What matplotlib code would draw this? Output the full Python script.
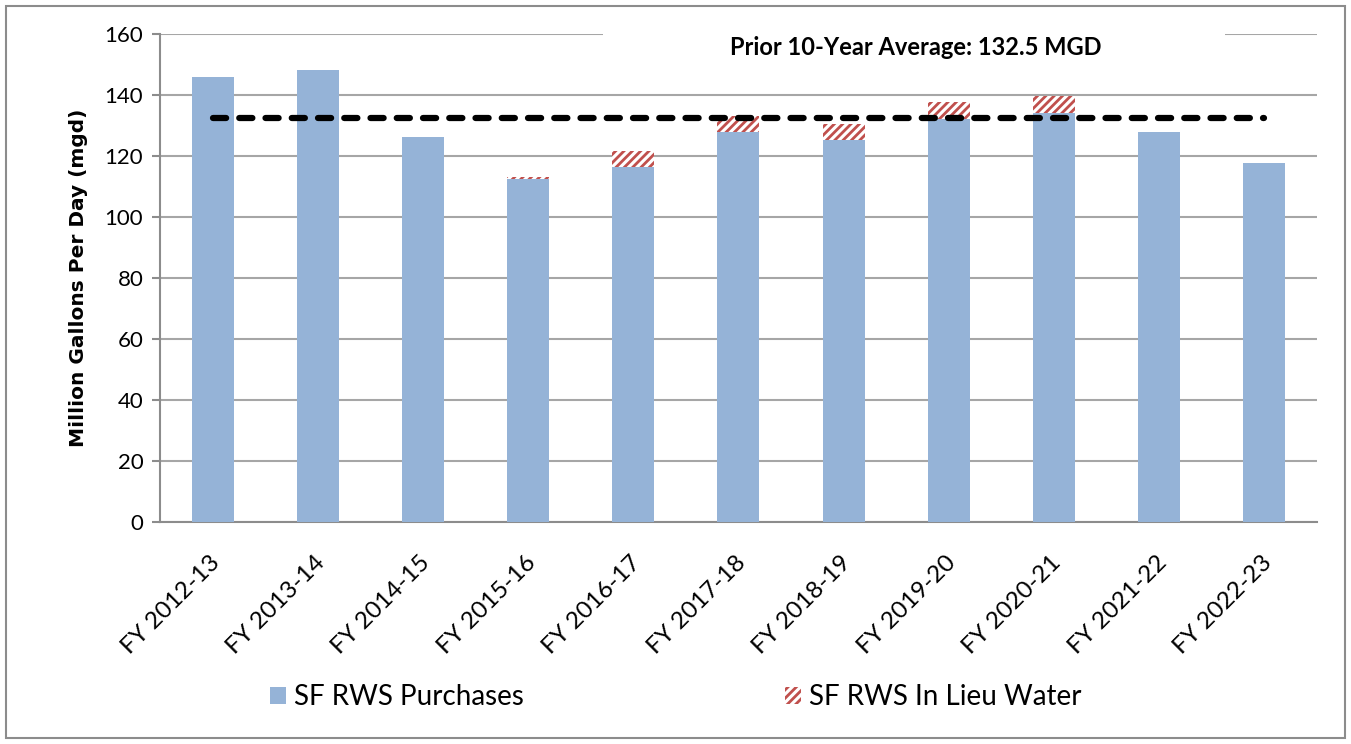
import numpy as np
import matplotlib.pyplot as plt
import matplotlib.transforms as mtrans
from matplotlib.patches import Rectangle, Patch

plt.rcParams['font.family'] = ['Lato', 'DejaVu Sans']
plt.rcParams['hatch.linewidth'] = 2.0

years = ["FY 2012-13", "FY 2013-14", "FY 2014-15", "FY 2015-16", "FY 2016-17",
         "FY 2017-18", "FY 2018-19", "FY 2019-20", "FY 2020-21", "FY 2021-22",
         "FY 2022-23"]
purchases = [145.9, 148.3, 126.3, 112.5, 116.3, 128.0, 125.2, 132.0, 134.2, 128.0, 117.8]
in_lieu = [0, 0, 0, 0.6, 5.3, 5.1, 5.3, 5.6, 5.5, 0, 0]
avg_10yr = 132.5

blue = "#95B3D7"
red = "#C0504D"
grey = "#8c8c8c"

fig = plt.figure(figsize=(13.51, 7.44), dpi=100)
ax = fig.add_axes([0.1184, 0.2984, 0.8564, 0.6559])

x = np.arange(len(years))
ax.bar(x, purchases, width=0.4, color=blue, zorder=3)
ax.bar(x, in_lieu, width=0.4, bottom=purchases, color="white",
       edgecolor=red, hatch="////", linewidth=0, zorder=3)
ax.plot([x[0], x[-1]], [avg_10yr, avg_10yr], color="black", lw=4.5,
        dashes=(2.1, 2.1), dash_capstyle="round", zorder=4)

ax.set_xlim(-0.5, len(years) - 0.5)
ax.set_ylim(0, 160)
ax.set_yticks(range(0, 161, 20))
ax.yaxis.grid(True, color="#a6a6a6", lw=1.5, zorder=0)
ax.set_axisbelow(True)
for s in ["top", "right"]:
    ax.spines[s].set_visible(False)
for s in ["left", "bottom"]:
    ax.spines[s].set_color(grey)
    ax.spines[s].set_linewidth(1.5)
ax.tick_params(axis="y", length=6, width=1.5, color=grey, labelsize=16, pad=6)
ax.tick_params(axis="x", length=0, labelsize=17.5, pad=27)
ax.set_xticks(x)
ax.set_xticklabels(years, rotation=45, ha="right", va="center",
                   rotation_mode="anchor")
shift = mtrans.ScaledTranslation(4 / 100, 0, fig.dpi_scale_trans)
for lbl in ax.get_xticklabels():
    lbl.set_transform(lbl.get_transform() + shift)
ax.set_ylabel("Million Gallons Per Day (mgd)", fontsize=14.5, fontweight="bold",
              family="DejaVu Sans", labelpad=12)

# white box behind the chart title (hides the top gridline like in the original)
ax.add_patch(Rectangle((0.383, 0.94), 0.5375, 0.1, transform=ax.transAxes,
                       facecolor="white", edgecolor="none", clip_on=False, zorder=2))
ax.text(0.653, 0.973, "Prior 10-Year Average: 132.5 MGD", transform=ax.transAxes,
        ha="center", va="center", fontsize=17, fontweight="bold", zorder=5)

handles = [Patch(facecolor=blue, edgecolor="none", label="SF RWS Purchases"),
           Patch(facecolor="white", edgecolor=red, hatch="////", lw=0,
                 label="SF RWS In Lieu Water")]
fig.legend(handles=handles, loc="center left", bbox_to_anchor=(0.181, 0.063), ncol=2,
           frameon=False, fontsize=20, handlelength=0.58, handleheight=0.58,
           handletextpad=0.29, columnspacing=9.4)

fig.patches.append(Rectangle((0.0045, 0.008), 0.991, 0.984, transform=fig.transFigure,
                             fill=False, edgecolor=grey, lw=1.5))

fig.savefig("out.png", dpi=100)
